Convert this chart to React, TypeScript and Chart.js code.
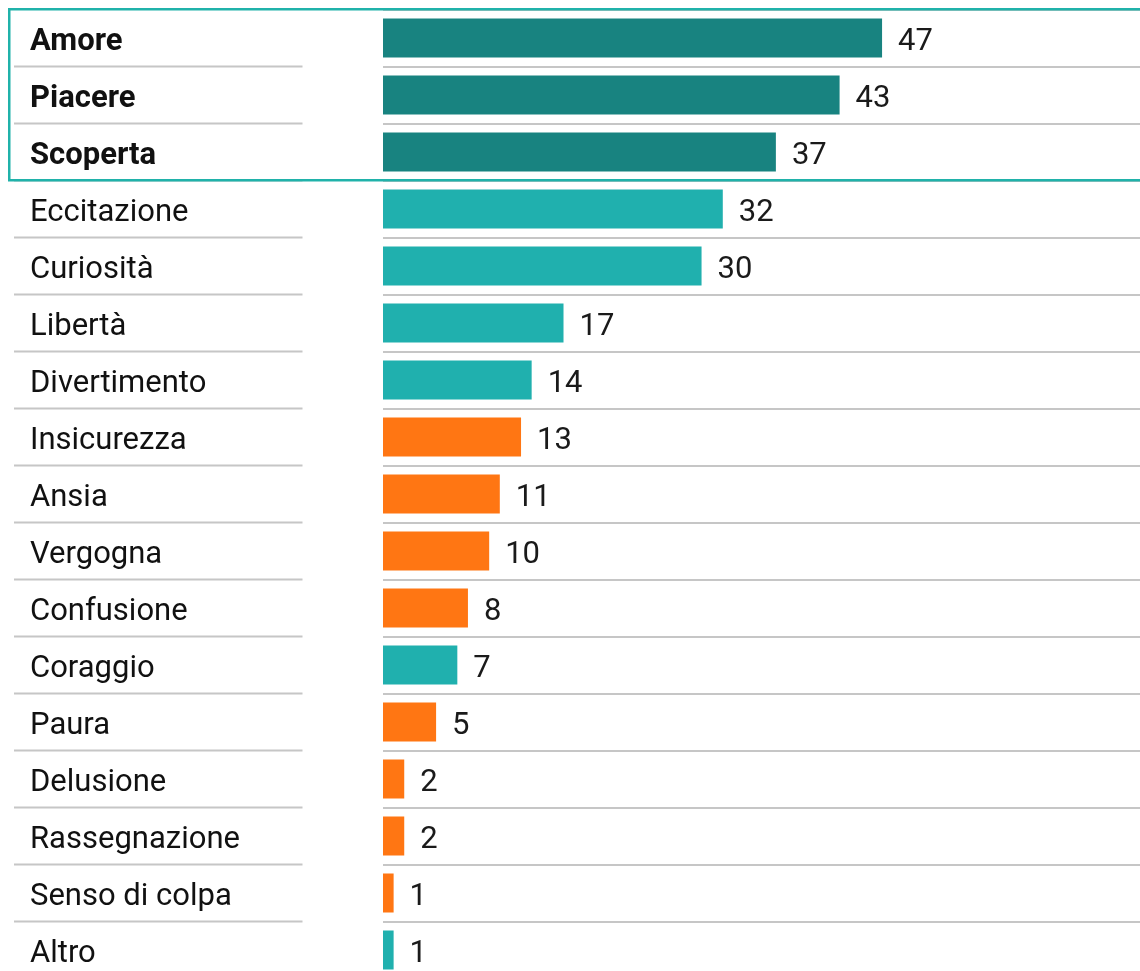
import React, { useEffect, useRef } from "react";
import { Chart, registerables } from "chart.js";

Chart.register(...registerables);

const categories = [
  "Amore", "Piacere", "Scoperta", "Eccitazione", "Curiosità", "Libertà",
  "Divertimento", "Insicurezza", "Ansia", "Vergogna", "Confusione",
  "Coraggio", "Paura", "Delusione", "Rassegnazione", "Senso di colpa", "Altro",
];
const values = [47, 43, 37, 32, 30, 17, 14, 13, 11, 10, 8, 7, 5, 2, 2, 1, 1];
const groups = [
  "top", "top", "top", "pos", "pos", "pos", "pos", "neg", "neg", "neg", "neg",
  "pos", "neg", "neg", "neg", "neg", "pos",
];
const highlightedCount = 3;

const groupColors: Record<string, string> = {
  top: "#188380",
  pos: "#20b0ae",
  neg: "#ff7613",
};

const FONT = "Roboto";

const decorPlugin = {
  id: "decor",
  beforeDatasetsDraw(chart: any) {
    const { ctx } = chart;
    const y = chart.scales.y;
    const half = (y.getPixelForValue(1) - y.getPixelForValue(0)) / 2;
    ctx.save();
    ctx.strokeStyle = "#c6c6c6";
    ctx.lineWidth = 2;
    for (let i = 0; i < categories.length - 1; i++) {
      const py = y.getPixelForValue(i) + half;
      ctx.beginPath();
      ctx.moveTo(6, py);
      ctx.lineTo(294.5, py);
      ctx.stroke();
    }
    ctx.restore();
  },
  afterDatasetsDraw(chart: any) {
    const { ctx } = chart;
    const meta = chart.getDatasetMeta(0);
    ctx.save();
    ctx.font = `31px ${FONT}`;
    ctx.fillStyle = "#1a1a1a";
    ctx.textAlign = "left";
    ctx.textBaseline = "middle";
    meta.data.forEach((bar: any, i: number) => {
      ctx.fillText(String(values[i]), bar.x + 16, bar.y + 4);
    });
    // highlight box
    const y = chart.scales.y;
    const half = (y.getPixelForValue(1) - y.getPixelForValue(0)) / 2;
    const top = y.getPixelForValue(0) - half;
    const bottom = y.getPixelForValue(highlightedCount - 1) + half;
    ctx.strokeStyle = "#20b2aa";
    ctx.lineWidth = 2.5;
    ctx.strokeRect(1.25, top - 0.25, chart.width + 20, bottom - top);
    ctx.restore();
  },
};

export default function App() {
  const ref = useRef<HTMLCanvasElement>(null);
  useEffect(() => {
    if (!ref.current) return;
    const chart = new Chart(ref.current, {
      type: "bar",
      data: {
        labels: categories,
        datasets: [
          {
            data: values,
            backgroundColor: groups.map((g) => groupColors[g]),
            barPercentage: 39 / 57,
            categoryPercentage: 1,
          },
        ],
      },
      options: {
        indexAxis: "y",
        responsive: false,
        animation: false,
        devicePixelRatio: 1,
        layout: { padding: { left: 22, top: 1.5, bottom: 9.5, right: 0 } },
        plugins: {
          legend: { display: false },
          tooltip: { enabled: false },
        },
        scales: {
          x: {
            display: false,
            min: 0,
            max: 76,
          },
          y: {
            afterFit: (s: any) => {
              s.width = 353;
              s.paddingTop = 0;
              s.paddingBottom = 0;
            },
            border: { display: false },
            grid: {
              offset: true,
              color: "#c6c6c6",
              lineWidth: 2,
              drawTicks: false,
            },
            ticks: {
              autoSkip: false,
              crossAlign: "far",
              padding: 0,
              labelOffset: 4,
              color: "#111111",
              font: (c: any) => ({
                family: FONT,
                size: 31,
                weight: c.index < highlightedCount ? "bold" : "normal",
              }),
            },
          },
        },
      },
      plugins: [decorPlugin],
    });
    (document as any).fonts?.load?.(`31px ${FONT}`).then(() => chart.update());
    return () => chart.destroy();
  }, []);
  return (
    <div
      style={{
        position: "absolute",
        left: 0,
        top: 0,
        width: 1140,
        height: 971,
        overflow: "hidden",
      }}
    >
      <canvas
        ref={ref}
        width={1182}
        height={980}
        style={{ display: "block", position: "absolute", left: 8, top: 8 }}
      />
    </div>
  );
}
